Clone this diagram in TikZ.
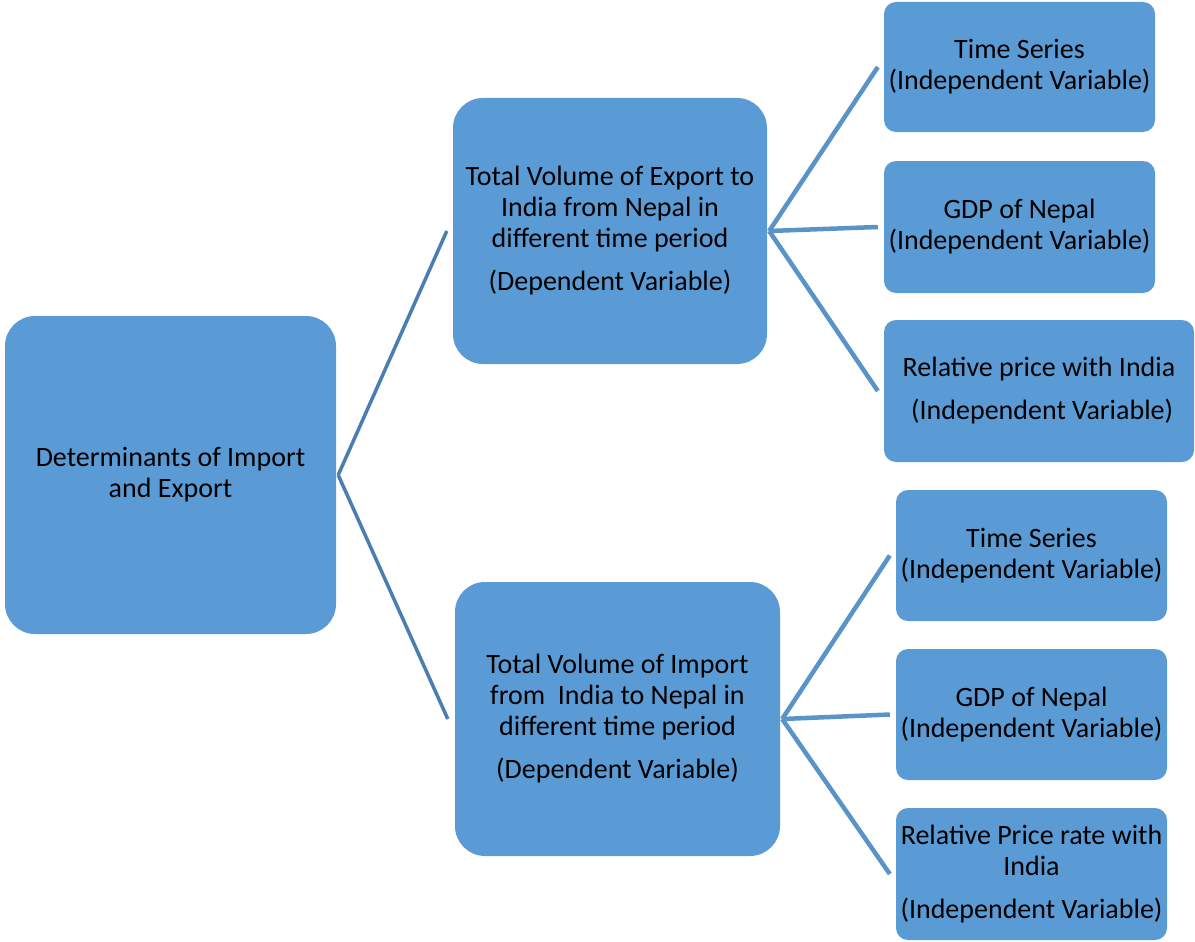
\documentclass[tikz,border=0pt]{standalone}
\usepackage{fontspec}
\setmainfont{Carlito}
\definecolor{boxblue}{HTML}{5B9BD5}
\definecolor{linkdark}{HTML}{4A7EB0}
\definecolor{linkblue}{HTML}{5A93C8}
\begin{document}
\begin{tikzpicture}[
  boxnode/.style={fill=boxblue, align=center, inner sep=0pt, font=\fontsize{28}{31}\selectfont},
  bigcorner/.style={rounded corners=30pt},
  smallcorner/.style={rounded corners=12pt},
  firstlink/.style={color=linkdark, line width=3.5pt},
  secondlink/.style={color=linkblue, line width=4.5pt}]
\useasboundingbox (0pt,0pt) rectangle (1195pt,-942pt);
% main boxes
\node[boxnode, bigcorner, minimum width=331pt, minimum height=318pt] (root) at (170.5pt,-475pt) {Determinants of Import\\and Export};
\node[boxnode, bigcorner, minimum width=314pt, minimum height=266pt] (export) at (610pt,-231pt) {Total Volume of Export to\\India from Nepal in\\different time period\\[12pt](Dependent Variable)};
\node[boxnode, bigcorner, minimum width=325pt, minimum height=274pt] (import) at (617.5pt,-719pt) {Total Volume of Import\\from\ \ India to Nepal in\\different time period\\[12pt](Dependent Variable)};
% independent variables
\node[boxnode, smallcorner, minimum width=271pt, minimum height=130pt] (ts1) at (1019.5pt,-67pt) {Time Series\\(Independent Variable)};
\node[boxnode, smallcorner, minimum width=271pt, minimum height=132pt] (gdp1) at (1019.5pt,-227pt) {GDP of Nepal\\(Independent Variable)};
\node[boxnode, smallcorner, minimum width=310pt, minimum height=142pt] (rp1) at (1039pt,-391pt) {Relative price with India\\[12pt]\ (Independent Variable)};
\node[boxnode, smallcorner, minimum width=271pt, minimum height=131pt] (ts2) at (1031.5pt,-555.5pt) {Time Series\\(Independent Variable)};
\node[boxnode, smallcorner, minimum width=271pt, minimum height=131pt] (gdp2) at (1031.5pt,-714.5pt) {GDP of Nepal\\(Independent Variable)};
\node[boxnode, smallcorner, minimum width=271pt, minimum height=132pt] (rp2) at (1031.5pt,-874pt) {Relative Price rate with\\India\\[12pt](Independent Variable)};
% links
\draw[firstlink] ([xshift=2pt]root.east) -- ([xshift=-6pt]export.west);
\draw[firstlink] ([xshift=2pt]root.east) -- ([xshift=-7pt]import.west);
\draw[secondlink] ([xshift=2pt]export.east) -- ([xshift=-6pt]ts1.west);
\draw[secondlink] ([xshift=2pt]export.east) -- ([xshift=-6pt]gdp1.west);
\draw[secondlink] ([xshift=2pt]export.east) -- ([xshift=-6pt]rp1.west);
\draw[secondlink] ([xshift=2pt]import.east) -- ([xshift=-6pt]ts2.west);
\draw[secondlink] ([xshift=2pt]import.east) -- ([xshift=-6pt]gdp2.west);
\draw[secondlink] ([xshift=2pt]import.east) -- ([xshift=-6pt]rp2.west);
\end{tikzpicture}
\end{document}
